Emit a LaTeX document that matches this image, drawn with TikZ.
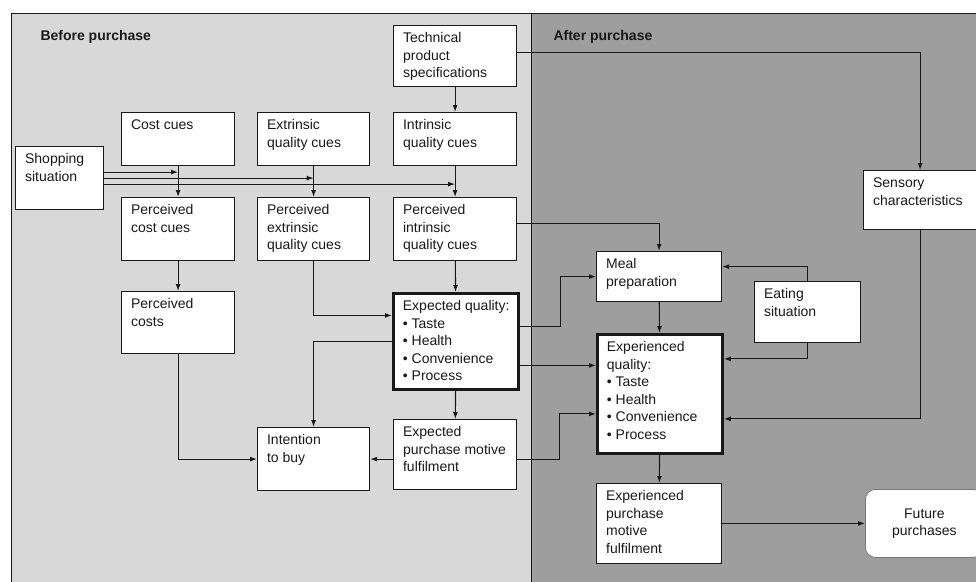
\documentclass[tikz,border=0pt]{standalone}
\usepackage{fontspec}
\setmainfont{Liberation Sans}
\usepackage{tikz}
\usetikzlibrary{arrows.meta}

\definecolor{beforegray}{RGB}{216,216,216}
\definecolor{aftergray}{RGB}{158,158,158}
\definecolor{inkgray}{RGB}{25,25,25}
\definecolor{softline}{RGB}{120,120,120}

% top-left aligned box text: width, height (pt), lines
\newcommand{\boxtext}[3]{\parbox[t][\dimexpr#2pt-10pt\relax][t]{\dimexpr#1pt-18pt\relax}{\raggedright\strut #3}}

\begin{document}
\begin{tikzpicture}[x=1pt,y=-1pt]
	\tikzset{cue/.style={draw=inkgray,fill=white,line width=1.2pt,anchor=north west,inner xsep=9.5pt,inner ysep=5pt,text=inkgray,font=\fontsize{14}{17.5}\selectfont}}
	\tikzset{keycue/.style={cue,line width=2.8pt}}
	\tikzset{outcome/.style={draw=softline,fill=white,line width=0.8pt,rounded corners=10pt,anchor=north west,align=center,text=inkgray,font=\fontsize{14}{17.5}\selectfont}}
	\tikzset{phase/.style={anchor=base west,text=inkgray,font=\bfseries\fontsize{14}{17}\selectfont}}
	\tikzset{link/.style={-{Latex[length=7pt,width=5pt]},line width=1.1pt,draw=inkgray}}
	\useasboundingbox (0,0) rectangle (976,581);
	\fill[white] (0,0) rectangle (976,581);
	\clip (0,0) rectangle (976,581);
	% the two phases
	\fill[beforegray] (11,13) rectangle (531,600);
	\fill[aftergray] (531,13) rectangle (990,600);
	\draw[inkgray,line width=1pt] (11,600) |- (990,13);
	\draw[inkgray,line width=1pt] (531,13) -- (531,600);
	\node[phase] (before) at (37,40) {Before purchase};
	\node[phase] (after) at (550,40) {After purchase};
	% before purchase
	\node[cue] (shop) at (15,146) {\boxtext{87}{63}{Shopping\\situation}};
	\node[cue] (costcues) at (121,112) {\boxtext{112}{53}{Cost cues}};
	\node[cue] (extcues) at (257,112) {\boxtext{111}{53}{Extrinsic\\quality cues}};
	\node[cue] (techspec) at (393,25) {\boxtext{122}{61}{Technical\\product\\specifications}};
	\node[cue] (intcues) at (393,112) {\boxtext{122}{53}{Intrinsic\\quality cues}};
	\node[cue] (pcostcues) at (121,197) {\boxtext{112}{63}{Perceived\\cost cues}};
	\node[cue] (pextcues) at (257,197) {\boxtext{111}{63}{Perceived\\extrinsic\\quality cues}};
	\node[cue] (pintcues) at (393,197) {\boxtext{122}{63}{Perceived\\intrinsic\\quality cues}};
	\node[cue] (pcosts) at (121,291) {\boxtext{112}{62}{Perceived\\costs}};
	\node[keycue] (expq) at (392,292) {\boxtext{124}{96}{\mbox{Expected quality:}\\\textbullet\ Taste\\\textbullet\ Health\\\textbullet\ Convenience\\\textbullet\ Process}};
	\node[cue] (intent) at (257,427) {\boxtext{111}{63}{Intention\\to buy}};
	\node[cue] (expmot) at (393,419) {\boxtext{122}{70}{Expected\\\mbox{purchase motive}\\fulfilment}};
	% after purchase
	\node[cue] (sensory) at (863,170) {\boxtext{120}{59}{Sensory\\characteristics}};
	\node[cue] (meal) at (596,251) {\boxtext{124}{50}{Meal\\preparation}};
	\node[cue] (eating) at (754,281) {\boxtext{105}{61}{Eating\\situation}};
	\node[keycue] (expdq) at (596,333) {\boxtext{124}{119}{Experienced\\quality:\\\textbullet\ Taste\\\textbullet\ Health\\\textbullet\ Convenience\\\textbullet\ Process}};
	\node[cue] (expdmot) at (596,483) {\boxtext{124}{80}{Experienced\\purchase\\motive\\fulfilment}};
	\node[outcome,minimum width=118pt,minimum height=68pt] (future) at (865,489) {Future\\purchases};
	% shopping situation feeds
	\coordinate (shopa) at ([yshift=6pt]shop.east);
	\coordinate (shopb) at (shop.east);
	\coordinate (shopc) at ([yshift=-6pt]shop.east);
	\draw[link] (shopa) -- (shopa -| costcues.south);
	\draw[link] (shopb) -- (shopb -| extcues.south);
	\draw[link] (shopc) -- (shopc -| intcues.south);
	% cue chains
	\draw[link] (techspec) -- (intcues);
	\draw[link] ([yshift=4pt]techspec.east) -| ([xshift=-4pt]sensory.north);
	\draw[link] (costcues) -- (pcostcues);
	\draw[link] (extcues) -- (pextcues);
	\draw[link] (intcues) -- (pintcues);
	\draw[link] (pcostcues) -- (pcosts);
	\draw[link] (pextcues.south) |- ([yshift=26pt]expq.west);
	\draw[link] (pintcues) -- (expq);
	\draw[link] ([yshift=6pt]pintcues.east) -| (meal.north);
	\draw[link] (expq.west) -| (intent.north);
	\draw[link] (pcosts.south) |- (intent.west);
	\draw[link] (expq) -- (expmot);
	\draw[link] (expmot.west |- intent.east) -- (intent.east);
	% into the after purchase phase
	\draw[link] ([yshift=15pt]expq.east) -- ++(41,0) |- (meal.west);
	\draw[link] ([yshift=-24pt]expq.east) -- ([yshift=-24pt]expq.east -| expdq.west);
	\draw[link] (expmot.east |- intent.east) -- ++(42,0) |- ([yshift=-20pt]expdq.west);
	\draw[link] (eating.north) |- ([yshift=10pt]meal.east);
	\draw[link] (eating.south) |- ([yshift=35pt]expdq.east);
	\draw[link] ([xshift=-4pt]sensory.south) |- ([yshift=-25pt]expdq.east);
	\draw[link] (meal) -- (expdq);
	\draw[link] (expdq) -- (expdmot);
	\draw[link] (expdmot.east |- future.west) -- (future.west);
\end{tikzpicture}
\end{document}
